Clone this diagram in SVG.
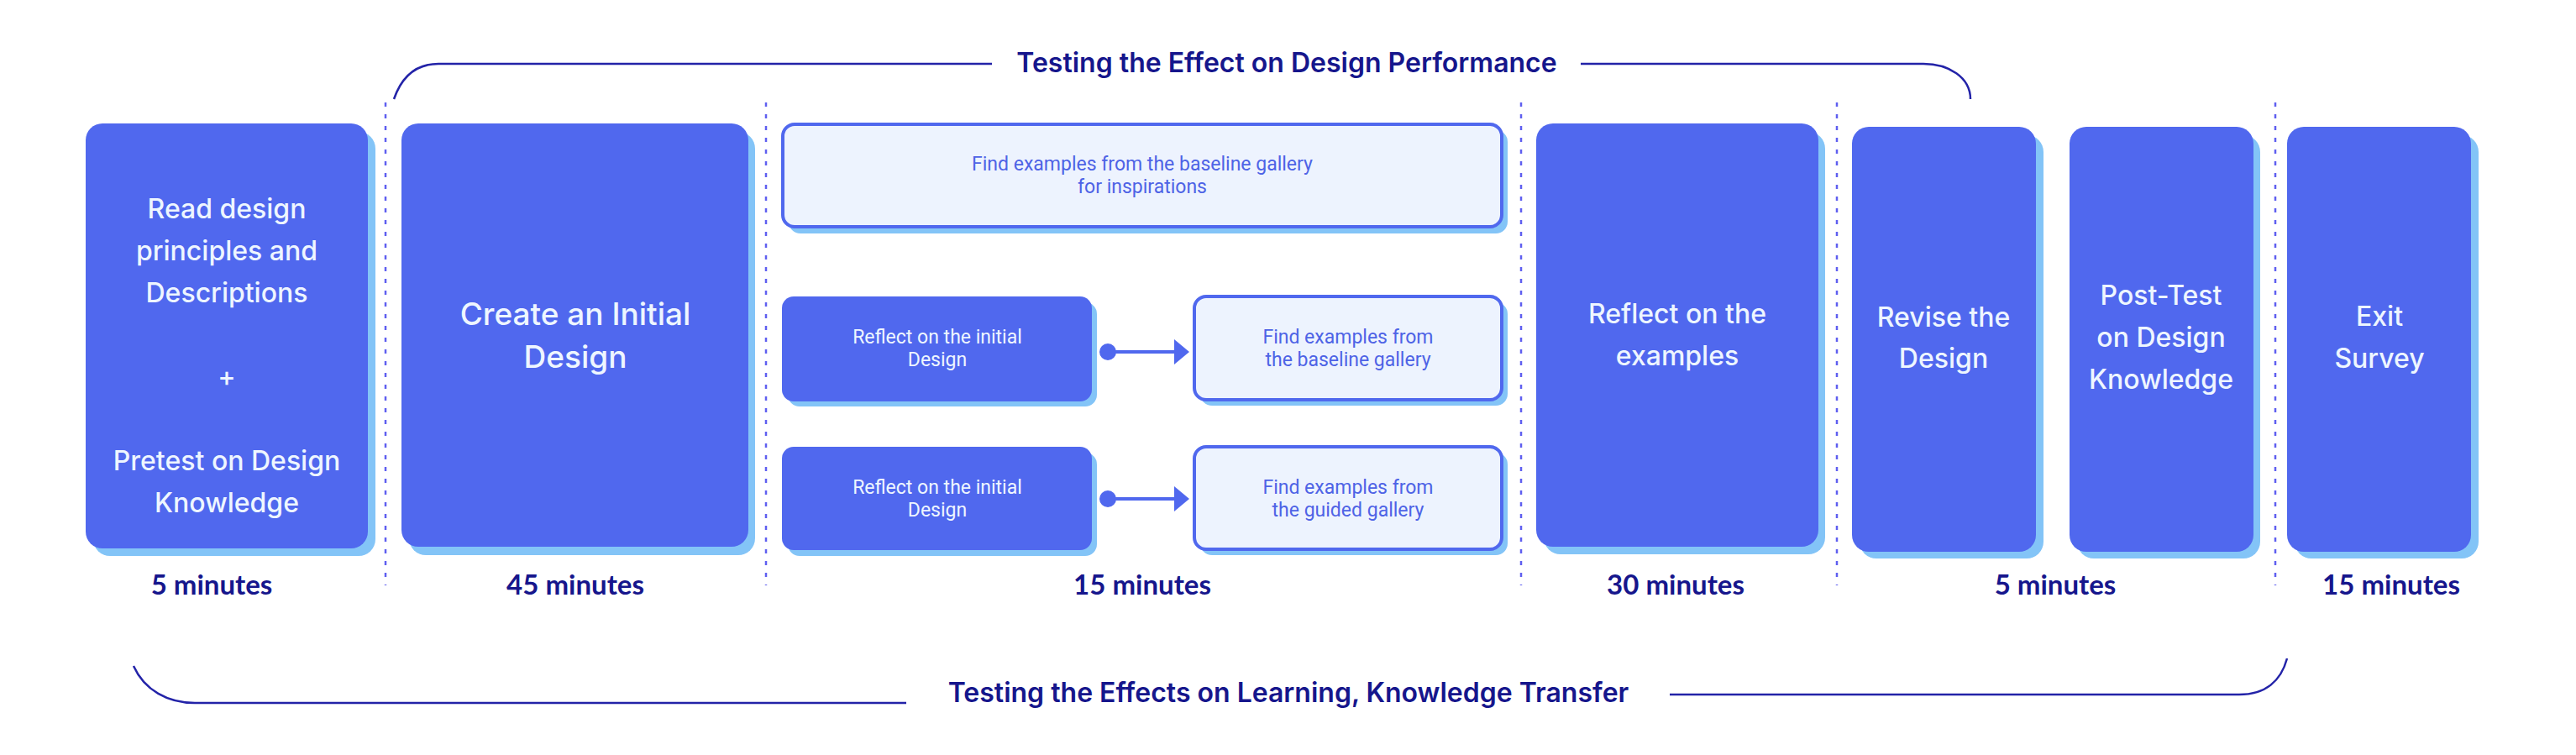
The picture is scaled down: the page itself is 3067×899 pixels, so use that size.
<svg xmlns="http://www.w3.org/2000/svg" width="3067" height="899" viewBox="0 0 3067 899">
<defs>
<style>
.main{fill:#5068ee}
.shadow{fill:#83c4f7}
.light{fill:#edf3fe;stroke:#5068ee;stroke-width:4}
.bt{font-family:Inter,Lato,"Liberation Sans",sans-serif;font-weight:500;font-size:32px;fill:#eef6ff;text-anchor:middle}
.bt2{font-family:Inter,Lato,"Liberation Sans",sans-serif;font-weight:500;font-size:37px;fill:#eef6ff;text-anchor:middle}
.st{font-family:Roboto,"Liberation Sans",sans-serif;font-size:23px;text-anchor:middle}
.stw{fill:#eef6ff}
.stb{fill:#4e63e6}
.lab{font-family:Lato,"Liberation Sans",sans-serif;font-weight:bold;font-size:33px;fill:#16168c;text-anchor:middle}
.ttl{font-family:Inter,Lato,"Liberation Sans",sans-serif;font-weight:600;font-size:32px;fill:#16168c;text-anchor:middle}
.br{fill:none;stroke:#2323a8;stroke-width:2.5}
.dot{stroke:#5f5ff0;stroke-width:2.5;stroke-dasharray:5 9}
.conn{stroke:#5068ee;stroke-width:4}
</style>
</defs>
<rect width="3067" height="899" fill="#ffffff"/>

<g id="dividers">
<line class="dot" x1="459" y1="122" x2="459" y2="697"/>
<line class="dot" x1="912" y1="122" x2="912" y2="697"/>
<line class="dot" x1="1811" y1="122" x2="1811" y2="697"/>
<line class="dot" x1="2187" y1="122" x2="2187" y2="697"/>
<line class="dot" x1="2709" y1="122" x2="2709" y2="697"/>
</g>

<g id="bracket-top">
<path class="br" d="M469,118 C478,92 495,76 522,76 L1181,76"/>
<path class="br" d="M1882,76 L2290,76 C2320,76 2346,92 2346,118"/>
<text class="ttl" x="1532" y="86">Testing the Effect on Design Performance</text>
</g>

<g id="bracket-bottom">
<path class="br" d="M159,793 C172,822 200,837 232,837 L1079,837"/>
<path class="br" d="M1988,827 L2666,827 C2698,827 2716,810 2723,784"/>
<text class="ttl" x="1534" y="836">Testing the Effects on Learning, Knowledge Transfer</text>
</g>

<g id="n1">
<rect class="shadow" x="111" y="157" width="336" height="505" rx="20"/>
<rect class="main" x="102" y="147" width="336" height="506" rx="20"/>
<text class="bt" x="270" y="260">Read design</text>
<text class="bt" x="270" y="310">principles and</text>
<text class="bt" x="270" y="360">Descriptions</text>
<text class="bt" x="270" y="460">+</text>
<text class="bt" x="270" y="560">Pretest on Design</text>
<text class="bt" x="270" y="610">Knowledge</text>
</g>

<g id="n2">
<rect class="shadow" x="487" y="157" width="412" height="504" rx="20"/>
<rect class="main" x="478" y="147" width="413" height="504" rx="20"/>
<text class="bt2" x="685" y="387">Create an Initial</text>
<text class="bt2" x="685" y="438">Design</text>
</g>

<g id="n3">
<rect class="shadow" x="939" y="155" width="856" height="123" rx="14"/>
<rect class="light" x="932" y="148" width="856" height="122" rx="14"/>
<text class="st stb" x="1360" y="203">Find examples from the baseline gallery</text>
<text class="st stb" x="1360" y="230">for inspirations</text>
</g>

<g id="n4">
<rect class="shadow" x="938" y="360" width="368" height="124" rx="14"/>
<rect class="main" x="931" y="353" width="369" height="125" rx="14"/>
<text class="st stw" x="1116" y="409">Reflect on the initial</text>
<text class="st stw" x="1116" y="436">Design</text>
</g>

<g id="n5">
<rect class="shadow" x="1429" y="360" width="366" height="123" rx="14"/>
<rect class="light" x="1422" y="353" width="366" height="123" rx="14"/>
<text class="st stb" x="1605" y="409">Find examples from</text>
<text class="st stb" x="1605" y="436">the baseline gallery</text>
</g>

<g id="n6">
<rect class="shadow" x="938" y="539" width="368" height="123" rx="14"/>
<rect class="main" x="931" y="532" width="369" height="123" rx="14"/>
<text class="st stw" x="1116" y="588">Reflect on the initial</text>
<text class="st stw" x="1116" y="615">Design</text>
</g>

<g id="n7">
<rect class="shadow" x="1429" y="539" width="366" height="122" rx="14"/>
<rect class="light" x="1422" y="532" width="366" height="122" rx="14"/>
<text class="st stb" x="1605" y="588">Find examples from</text>
<text class="st stb" x="1605" y="615">the guided gallery</text>
</g>

<g id="n8">
<rect class="shadow" x="1838" y="157" width="335" height="503" rx="20"/>
<rect class="main" x="1829" y="147" width="336" height="504" rx="20"/>
<text class="bt" x="1997" y="385">Reflect on the</text>
<text class="bt" x="1997" y="435">examples</text>
</g>

<g id="n9">
<rect class="shadow" x="2214" y="161" width="219" height="504" rx="20"/>
<rect class="main" x="2205" y="151" width="219" height="506" rx="20"/>
<text class="bt" x="2314" y="389">Revise the</text>
<text class="bt" x="2314" y="438">Design</text>
</g>

<g id="n10">
<rect class="shadow" x="2473" y="161" width="218" height="504" rx="20"/>
<rect class="main" x="2464" y="151" width="219" height="506" rx="20"/>
<text class="bt" x="2573" y="363">Post-Test</text>
<text class="bt" x="2573" y="413">on Design</text>
<text class="bt" x="2573" y="463">Knowledge</text>
</g>

<g id="n11">
<rect class="shadow" x="2732" y="161" width="219" height="504" rx="20"/>
<rect class="main" x="2723" y="151" width="219" height="506" rx="20"/>
<text class="bt" x="2833" y="388">Exit</text>
<text class="bt" x="2833" y="438">Survey</text>
</g>

<g id="connectors">
<circle cx="1319" cy="419" r="10" fill="#5068ee"/>
<line class="conn" x1="1319" y1="419" x2="1400" y2="419"/>
<polygon points="1398,404 1416,419 1398,434" fill="#5068ee"/>
<circle cx="1319" cy="594" r="10" fill="#5068ee"/>
<line class="conn" x1="1319" y1="594" x2="1400" y2="594"/>
<polygon points="1398,579 1416,594 1398,609" fill="#5068ee"/>
</g>

<g id="durations">
<text class="lab" x="252" y="708">5 minutes</text>
<text class="lab" x="685" y="708">45 minutes</text>
<text class="lab" x="1360" y="708">15 minutes</text>
<text class="lab" x="1995" y="708">30 minutes</text>
<text class="lab" x="2447" y="708">5 minutes</text>
<text class="lab" x="2847" y="708">15 minutes</text>
</g>
</svg>
